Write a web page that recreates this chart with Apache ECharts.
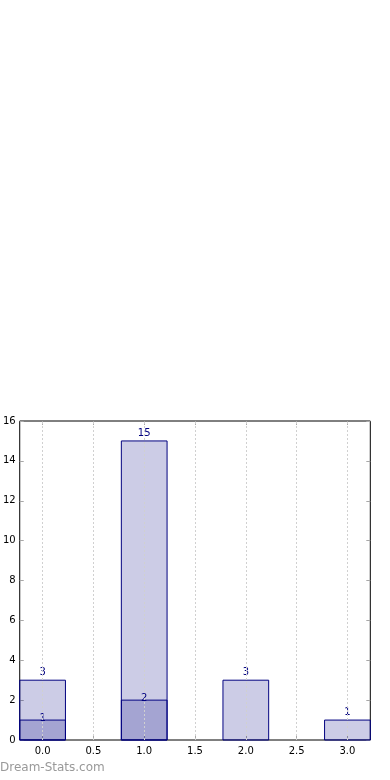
<!DOCTYPE html>
<html>
<head>
<meta charset="utf-8">
<script src="https://cdn.jsdelivr.net/npm/echarts@6/dist/echarts.min.js"></script>
<style>
html,body{margin:0;padding:0;background:#fff;}
#c{width:390px;height:780px;}
</style>
</head>
<body>
<div id="c"></div>
<script>
var categories = [0, 1, 2, 3];
var totalValues = [3, 15, 3, 1];
var subValues = [1, 2, null, null];
var xTicks = [0, 0.5, 1, 1.5, 2, 2.5, 3];
var yTicks = [0, 2, 4, 6, 8, 10, 12, 14, 16];

var BAR_HALF = 0.225;
var FILL = 'rgba(0,0,128,0.2)';
var EDGE = '#000080';
var FONT = '"DejaVu Sans", sans-serif';

function makeRender(labelMode) {
  return function (params, api) {
    var x = api.value(0), v = api.value(1);
    var p1 = api.coord([x - BAR_HALF, v]);
    var p2 = api.coord([x + BAR_HALF, 0]);
    var cs = params.coordSys;
    var left = Math.max(p1[0], cs.x), right = Math.min(p2[0], cs.x + cs.width);
    var rect = {x: left, y: p1[1], width: right - left, height: p2[1] - p1[1]};
    var top = api.coord([x, v]);
    var ly = labelMode === 'above' ? top[1] - 3 : top[1] + 3;
    return {
      type: 'group',
      children: [
        {type: 'rect', shape: rect, style: {fill: FILL, stroke: EDGE, lineWidth: 1}},
        {type: 'text', z2: 10, style: {x: top[0], y: ly, text: String(v), fill: EDGE,
          font: '10px ' + FONT, align: 'center', verticalAlign: 'bottom'}}
      ]
    };
  };
}

var totalData = categories.map(function (c, i) { return [c, totalValues[i]]; });
var subData = [];
categories.forEach(function (c, i) { if (subValues[i] != null) subData.push([c, subValues[i]]); });

var chart = echarts.init(document.getElementById('c'), null, {renderer: 'canvas'});
var tickStyle = {show: true, inside: true, length: 4, lineStyle: {color: '#a8a8a8', width: 1}};
chart.setOption({
  animation: false,
  grid: {left: 19.5, right: 19.7, top: 421, bottom: 40, show: true, borderColor: '#000', borderWidth: 1, backgroundColor: 'transparent'},
  xAxis: [{
    type: 'value', min: -BAR_HALF, max: 3 + BAR_HALF,
    axisLine: {show: false, onZero: false},
    axisTick: Object.assign({}, tickStyle, {customValues: xTicks}),
    axisLabel: {customValues: xTicks, formatter: function (v) { return v.toFixed(1); }, color: '#000', fontSize: 10, fontFamily: FONT, margin: 6},
    splitLine: {show: false}
  }, {
    type: 'value', position: 'top', min: -BAR_HALF, max: 3 + BAR_HALF,
    axisLine: {show: false, onZero: false},
    axisTick: Object.assign({}, tickStyle, {customValues: xTicks}),
    axisLabel: {show: false}, splitLine: {show: false}
  }],
  yAxis: [{
    type: 'value', position: 'left', min: 0, max: 16, interval: 2,
    axisLine: {show: false, onZero: false},
    axisTick: tickStyle,
    axisLabel: {color: '#000', fontSize: 10, fontFamily: FONT, margin: 4},
    splitLine: {show: false}
  }, {
    type: 'value', position: 'right', min: 0, max: 16, interval: 2,
    axisLine: {show: false, onZero: false},
    axisTick: tickStyle,
    axisLabel: {show: false}, splitLine: {show: false}
  }],
  series: [
    {
      type: 'line', data: [], xAxisIndex: 0, yAxisIndex: 0, silent: true, z: 1,
      markLine: {
        silent: true, symbol: 'none', label: {show: false},
        lineStyle: {color: '#d0d0d0', type: [2, 2], width: 1},
        data: xTicks.map(function (t) { return {xAxis: t}; })
      }
    },
    {type: 'custom', renderItem: makeRender('above'), data: totalData, encode: {x: 0, y: 1}, z: 3},
    {type: 'custom', renderItem: makeRender('center'), data: subData, encode: {x: 0, y: 1}, z: 4}
  ],
  graphic: [{
    type: 'text', left: 0, top: 762,
    style: {text: 'Dream-Stats.com', fill: '#999999', font: '12px ' + FONT}
  }]
});
</script>
</body>
</html>
